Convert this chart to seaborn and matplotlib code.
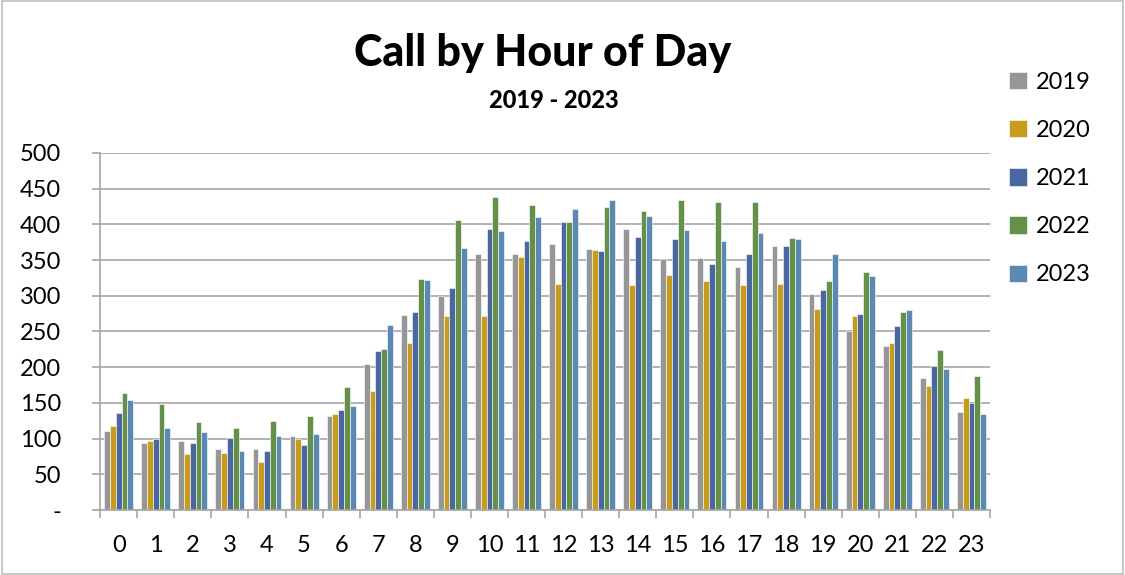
import matplotlib
matplotlib.use("Agg")
import matplotlib.pyplot as plt
import seaborn as sns
import pandas as pd

hours = list(range(24))
years = ["2019", "2020", "2021", "2022", "2023"]

calls_2019 = [111, 94, 96, 86, 85, 104, 132, 204, 273, 300, 358, 359,
              372, 366, 394, 352, 353, 340, 370, 302, 250, 230, 185, 137]
calls_2020 = [117, 97, 78, 80, 67, 100, 134, 167, 234, 272, 271, 354,
              317, 364, 315, 329, 320, 315, 317, 281, 271, 234, 173, 157]
calls_2021 = [136, 99, 94, 101, 83, 91, 140, 222, 277, 311, 394, 377,
              404, 363, 383, 379, 344, 359, 370, 308, 275, 257, 201, 150]
calls_2022 = [164, 149, 123, 115, 125, 132, 172, 226, 324, 406, 439, 427,
              404, 425, 419, 434, 431, 431, 381, 320, 333, 277, 224, 188]
calls_2023 = [154, 115, 109, 83, 104, 106, 145, 259, 322, 367, 391, 410,
              421, 434, 412, 392, 377, 388, 379, 358, 328, 280, 198, 134]

colors = ["#969696", "#E3A900", "#3D62AD", "#629B3F", "#4E8AC0"]

series = [calls_2019, calls_2020, calls_2021, calls_2022, calls_2023]
df = pd.DataFrame({
    "hour": [h for s in series for h in hours],
    "year": [y for y, s in zip(years, series) for _ in s],
    "calls": [v for s in series for v in s],
})

sns.set_style("white")
plt.rcParams["font.family"] = ["Lato", "DejaVu Sans"]
plt.rcParams["text.color"] = "black"
plt.rcParams["xtick.color"] = "black"
plt.rcParams["ytick.color"] = "black"

fig = plt.figure(figsize=(11.25, 5.75), dpi=100)
ax = fig.add_axes([0.089, 0.113, 0.791, 0.621])

sns.barplot(data=df, x="hour", y="calls", hue="year", palette=colors,
            width=0.78, edgecolor="white", linewidth=0.4, ax=ax,
            legend=True)

ax.set_ylim(0, 500)
ax.set_xlim(-0.5, 23.5)
ax.set_yticks(range(0, 501, 50))
ax.set_yticklabels(["-"] + [str(v) for v in range(50, 501, 50)], fontsize=17)
ax.set_xticks(hours)
ax.set_xticklabels([str(h) for h in hours], fontsize=17)
ax.set_xlabel("")
ax.set_ylabel("")

ax.yaxis.grid(True, color="#A6A6A6", linewidth=1.2)
ax.set_axisbelow(True)
for side in ["top", "right"]:
    ax.spines[side].set_visible(False)
ax.spines["left"].set_color("#A6A6A6")
ax.spines["bottom"].set_color("#A6A6A6")
ax.spines["left"].set_linewidth(1.2)
ax.spines["bottom"].set_linewidth(1.2)

# category boundary ticks on the x axis, short outward ticks on y
ax.set_xticks([h - 0.5 for h in hours] + [23.5], minor=True)
ax.tick_params(axis="x", which="major", length=0, pad=18)
ax.tick_params(axis="x", which="minor", length=6, color="#A6A6A6", width=1.2,
               direction="out", bottom=True)
ax.tick_params(axis="y", length=6, color="#A6A6A6", width=1.2,
               direction="out", left=True, pad=22, labelcolor="black")

handles, labels = ax.get_legend_handles_labels()
ax.legend_.remove()
fig.legend(handles, labels, loc="upper left", bbox_to_anchor=(0.878, 0.912),
           frameon=False, fontsize=17, handlelength=0.75, handleheight=0.75,
           handletextpad=0.4, labelspacing=1.15)

fig.text(0.482, 0.907, "Call by Hour of Day", ha="center", va="center",
         fontsize=31, fontweight="black")
fig.text(0.492, 0.826, "2019 - 2023", ha="center", va="center",
         fontsize=17, fontweight="black")

fig.patches.append(plt.Rectangle((0.002, 0.002), 0.996, 0.996,
                                 transform=fig.transFigure, fill=False,
                                 edgecolor="#BFBFBF", linewidth=1.2))

fig.savefig("out.png", dpi=100)
